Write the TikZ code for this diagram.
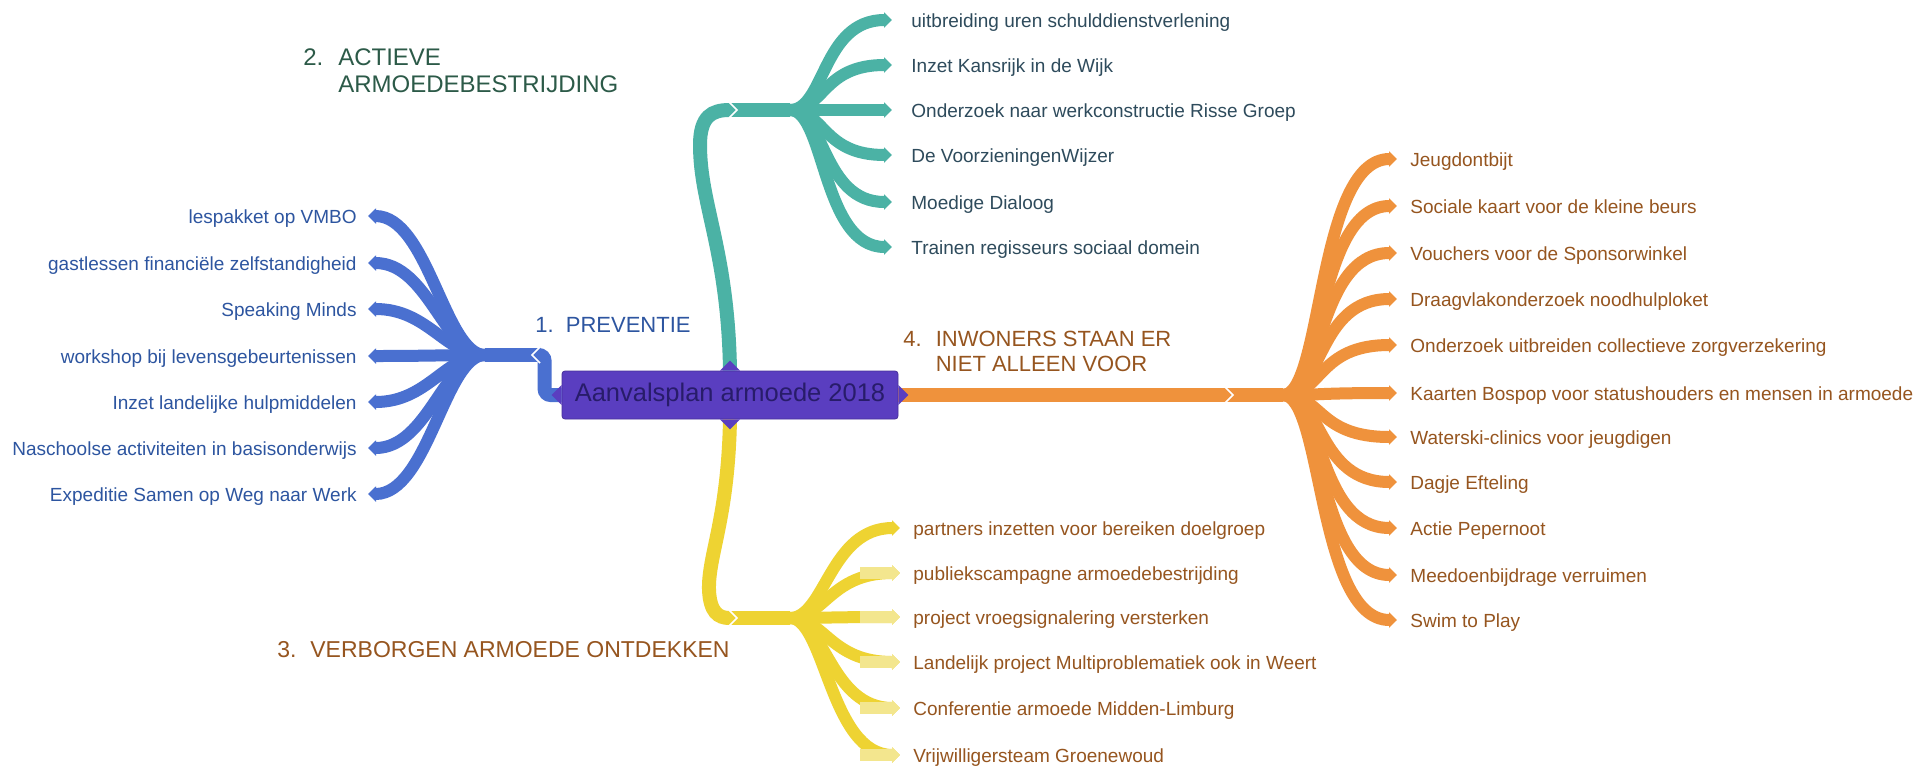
\documentclass[tikz,border=0pt]{standalone}
\usepackage{fontspec}
\setmainfont{Liberation Sans}
\usetikzlibrary{arrows.meta,calc}
\definecolor{cblue}{HTML}{4A70D0}
\definecolor{tblue}{HTML}{2D55A0}
\definecolor{cteal}{HTML}{4BB2A5}
\definecolor{tteal}{HTML}{2E4B5C}
\definecolor{tgreen}{HTML}{2C5A48}
\definecolor{cyellow}{HTML}{EED332}
\definecolor{cypale}{HTML}{F3E68E}
\definecolor{corange}{HTML}{EF923C}
\definecolor{tbrown}{HTML}{96551F}
\definecolor{cnode}{HTML}{5A3EC0}
\definecolor{tnode}{HTML}{281C6A}
\begin{document}
\begin{tikzpicture}[x=0.5pt,y=-0.5pt,
  leaf/.style={line width=6pt,-{Triangle[length=4pt,width=7.5pt]}},
  hubline/.style={line width=7pt},
  trunkend/.style={line width=7pt,-{Triangle[length=4pt,width=8pt]}},
  sepline/.style={white,line width=0.8pt},
  leaftext/.style={inner sep=0pt,font=\fontsize{9.5}{11}\selectfont},
  title/.style={inner sep=0pt,anchor=base west},
  nodetip/.style={fill=cnode},
]
\useasboundingbox[fill=white] (0,0) rectangle (1930,766);

% central node
\node[draw=cnode!80!black,line width=0.4pt,fill=cnode,rounded corners=1.5pt,
  minimum width=168pt,minimum height=24pt,inner sep=0pt,text=tnode,
  font=\fontsize{12.75}{14}\selectfont] (cn) at (730,395) {Aanvalsplan armoede 2018};

% hub coordinates
\coordinate (bc) at (532,355); \coordinate (bh) at (485,355);
\coordinate (tc) at (737,110); \coordinate (th) at (790,110);
\coordinate (yc) at (737,618); \coordinate (yh) at (790,618);
\coordinate (oc) at (1233,395); \coordinate (oh) at (1283,395);

% ---------- 1. PREVENTIE (blue) ----------
\foreach \i/\y/\t in {1/216/lespakket op VMBO,
  2/263/gastlessen financiële zelfstandigheid,
  3/309/Speaking Minds,
  4/356/workshop bij levensgebeurtenissen,
  5/402/Inzet landelijke hulpmiddelen,
  6/448/Naschoolse activiteiten in basisonderwijs,
  7/494/Expeditie Samen op Weg naar Werk}{
  \coordinate (bt\i) at (368,\y);
  \draw[leaf,cblue] (bh) .. controls +(-40,0) and +(60,0) .. (bt\i);
  \node[leaftext,text=tblue,anchor=base east] (bl\i) at (357,\y+7) {\t};
}
\draw[hubline,cblue] ($(bc)+(8,0)$) -- (bh);
\draw[trunkend,cblue,rounded corners=3pt] (cn.west) -- ++(-17,0) |- (bc);
\draw[sepline] ($(bc)+(8,-8)$) -- (bc) -- ($(bc)+(8,8)$);

% ---------- 2. ACTIEVE ARMOEDEBESTRIJDING (teal) ----------
\foreach \i/\y/\t in {1/20/uitbreiding uren schulddienstverlening,
  2/65/Inzet Kansrijk in de Wijk,
  3/110/Onderzoek naar werkconstructie Risse Groep,
  4/155/De VoorzieningenWijzer,
  5/202/Moedige Dialoog,
  6/247/Trainen regisseurs sociaal domein}{
  \coordinate (tt\i) at (892,\y);
  \draw[leaf,cteal] (th) .. controls +(35,0) and +(-70,0) .. (tt\i);
  \node[leaftext,text=tteal,anchor=base west] (tl\i) at (911,\y+7) {\t};
}
\draw[hubline,cteal] ($(tc)+(-8,0)$) -- (th);
\draw[trunkend,cteal] (cn.north) .. controls (728,250) and (700,205) .. (700,145)
  .. controls (700,116) and (712,110) .. (tc);
\draw[sepline] ($(tc)+(-8,-8)$) -- (tc) -- ($(tc)+(-8,8)$);

% ---------- 3. VERBORGEN ARMOEDE ONTDEKKEN (yellow) ----------
\foreach \i/\y/\t in {1/528/partners inzetten voor bereiken doelgroep,
  2/573/publiekscampagne armoedebestrijding,
  3/617/project vroegsignalering versterken,
  4/662/Landelijk project Multiproblematiek ook in Weert,
  5/708/Conferentie armoede Midden-Limburg,
  6/755/Vrijwilligersteam Groenewoud}{
  \coordinate (yt\i) at (900,\y);
  \draw[leaf,cyellow] (yh) .. controls +(35,0) and +(-70,0) .. (yt\i);
  \node[leaftext,text=tbrown,anchor=base west] (yl\i) at (913,\y+7) {\t};
}
\foreach \i in {2,...,6}{
  \draw[leaf,cypale] ($(yt\i)+(-40,0)$) -- (yt\i);
}
\draw[hubline,cyellow] ($(yc)+(-8,0)$) -- (yh);
\draw[trunkend,cyellow] (cn.south) .. controls (728,520) and (708,555) .. (709,590)
  .. controls (710,612) and (718,618) .. (yc);
\draw[sepline] ($(yc)+(-8,-8)$) -- (yc) -- ($(yc)+(-8,8)$);

% ---------- 4. INWONERS STAAN ER NIET ALLEEN VOOR (orange) ----------
\foreach \i/\y/\t in {1/159/Jeugdontbijt,
  2/206/Sociale kaart voor de kleine beurs,
  3/253/Vouchers voor de Sponsorwinkel,
  4/299/Draagvlakonderzoek noodhulploket,
  5/345/Onderzoek uitbreiden collectieve zorgverzekering,
  6/393/Kaarten Bospop voor statushouders en mensen in armoede,
  7/437/Waterski-clinics voor jeugdigen,
  8/482/Dagje Efteling,
  9/528/Actie Pepernoot,
  10/575/Meedoenbijdrage verruimen,
  11/620/Swim to Play}{
  \coordinate (ot\i) at (1397,\y);
  \draw[leaf,corange] (oh) .. controls +(40,0) and +(-80,0) .. (ot\i);
  \node[leaftext,text=tbrown,anchor=base west] (ol\i) at (1410,\y+7) {\t};
}
\draw[hubline,corange] ($(oc)+(-8,0)$) -- (oh);
\draw[trunkend,corange] (cn.east) -- (oc);
\draw[sepline] ($(oc)+(-8,-8)$) -- (oc) -- ($(oc)+(-8,8)$);

% node tips
\fill[nodetip] (cn.west) ++(0,-10) -- ++(-10,10) -- ++(10,10) -- cycle;
\fill[nodetip] (cn.east) ++(0,-10) -- ++(10,10) -- ++(-10,10) -- cycle;
\fill[nodetip] (cn.north) ++(-10,0) -- ++(10,-10) -- ++(10,10) -- cycle;
\fill[nodetip] (cn.south) ++(-10,0) -- ++(10,10) -- ++(10,-10) -- cycle;

% category labels
\node[title,text=tblue,font=\fontsize{11}{12.5}\selectfont] (l1) at (535,332)
  {1.\hspace{0.55em}PREVENTIE};
\node[title,text=tgreen,font=\fontsize{12}{13.5}\selectfont] (l2) at (303,65)
  {\begin{tabular}[t]{@{}l@{\hspace{0.62em}}l@{}}2.&ACTIEVE\\&ARMOEDEBESTRIJDING\end{tabular}};
\node[title,text=tbrown,font=\fontsize{11.5}{13}\selectfont] (l3) at (277,657)
  {3.\hspace{0.6em}VERBORGEN ARMOEDE ONTDEKKEN};
\node[title,text=tbrown,font=\fontsize{11}{12.5}\selectfont] (l4) at (903,346)
  {\begin{tabular}[t]{@{}l@{\hspace{0.64em}}l@{}}4.&INWONERS STAAN ER\\&NIET ALLEEN VOOR\end{tabular}};
\end{tikzpicture}
\end{document}
